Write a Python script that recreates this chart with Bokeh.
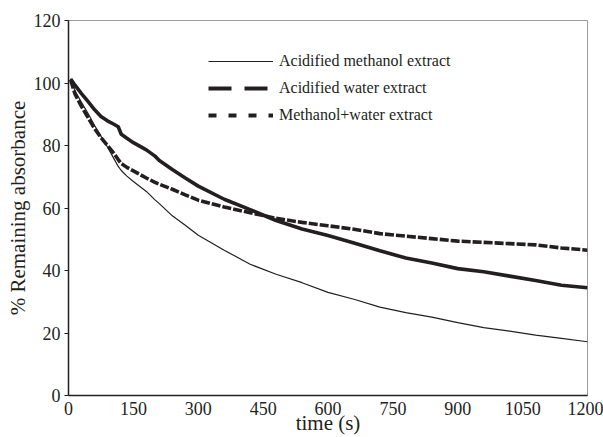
from bokeh.plotting import figure
from bokeh.models import Range1d, Legend, LegendItem, FixedTicker
from bokeh.embed import file_html
from bokeh.resources import INLINE

# ---- data ----
time_s = [5, 15, 30, 45, 60, 75, 90, 105, 115, 122, 135, 150, 180, 200, 210, 240, 270, 300,
          360, 420, 480, 540, 600, 660, 720, 780, 840, 900, 960, 1020, 1080, 1140, 1200]
acid_methanol = [101.4, 97.5, 93.8, 90.3, 86.5, 83.0, 79.5, 75.8, 73.3, 72.0, 70.2, 68.5, 65.3, 62.6,
                 61.4, 57.5, 54.5, 51.3, 46.5, 42.0, 38.8, 36.1, 33.0, 30.8, 28.3, 26.5, 25.1, 23.3,
                 21.7, 20.6, 19.3, 18.3, 17.2]
acid_water = [101.3, 99.3, 96.6, 94.1, 91.5, 89.3, 87.9, 86.8, 86.0, 83.6, 82.3, 80.9, 78.6, 76.6,
              75.2, 72.3, 69.6, 67.0, 62.8, 59.5, 56.0, 53.3, 51.2, 48.8, 46.3, 44.0, 42.4, 40.6,
              39.6, 38.2, 36.8, 35.3, 34.5]
methanol_water = [101.0, 96.5, 92.5, 89.0, 85.5, 82.5, 80.0, 77.5, 75.5, 74.2, 73.0, 71.9, 69.6, 68.2,
                  67.6, 66.0, 64.2, 62.5, 60.3, 58.5, 56.7, 55.4, 54.3, 53.2, 51.8, 51.0, 50.2, 49.4,
                  49.0, 48.6, 48.2, 47.2, 46.5]
series_names = ["Acidified methanol extract", "Acidified water extract", "Methanol+water extract"]
x_ticks = [0, 150, 300, 450, 600, 750, 900, 1050, 1200]
y_ticks = [0, 20, 40, 60, 80, 100, 120]
x_title = "time (s)"
y_title = "% Remaining absorbance"

INK = "#231f20"
FONT = "Liberation Serif"

p = figure(width=603, height=437, output_backend="svg", toolbar_location=None,
           x_range=Range1d(0, 1200), y_range=Range1d(0, 120),
           min_border_left=68, min_border_right=16, min_border_top=20, min_border_bottom=42)
p.grid.visible = False
p.outline_line_color = "#9a9a9a"
p.outline_line_width = 1
p.background_fill_color = "white"
p.border_fill_color = "white"

# axes
for ax in (p.xaxis[0], p.yaxis[0]):
    ax.axis_line_color = INK
    ax.axis_line_width = 1.5
    ax.major_label_text_font = FONT
    ax.major_label_text_color = INK
    ax.major_label_text_font_size = "18px"
    ax.axis_label_text_font = FONT
    ax.axis_label_text_color = INK
    ax.axis_label_text_font_size = "21px"
    ax.axis_label_text_font_style = "normal"
    ax.minor_tick_line_color = None

p.xaxis.ticker = FixedTicker(ticks=x_ticks)
p.yaxis.ticker = FixedTicker(ticks=y_ticks)
p.xaxis.major_tick_line_color = None
p.xaxis.major_tick_in = 0
p.xaxis.major_tick_out = 0
p.xaxis.major_label_standoff = 6
p.xaxis.axis_label_standoff = -7
p.xaxis.axis_label = x_title
p.yaxis.major_tick_in = 0
p.yaxis.major_tick_out = 4
p.yaxis.major_tick_line_color = INK
p.yaxis.major_label_standoff = 4
p.yaxis.axis_label_standoff = 1
p.yaxis.axis_label = y_title

# data lines
p.line(time_s, acid_methanol, line_color=INK, line_width=1.2)
p.line(time_s, acid_water, line_color=INK, line_width=3.6)
p.line(time_s, methanol_water, line_color=INK, line_width=3.6, line_dash="9 2")

# legend samples (drawn only in the legend)
nan = float("nan")
l1 = p.line([nan], [nan], line_color=INK, line_width=1.2)
l2 = p.line([nan], [nan], line_color=INK, line_width=4, line_dash="23 13")
l3 = p.line([nan], [nan], line_color=INK, line_width=4, line_dash="8 12")

legend = Legend(items=[LegendItem(label=series_names[0], renderers=[l1]),
                       LegendItem(label=series_names[1], renderers=[l2]),
                       LegendItem(label=series_names[2], renderers=[l3])],
                location=(140, 270))
legend.border_line_color = None
legend.background_fill_alpha = 0
legend.padding = 0
legend.margin = 0
legend.spacing = 7
legend.glyph_width = 65
legend.glyph_height = 20
legend.label_height = 20
legend.label_standoff = 6
legend.label_text_font = FONT
legend.label_text_font_size = "16px"
legend.label_text_color = INK
p.add_layout(legend, "center")

open("out.html", "w").write(file_html(p, INLINE))
